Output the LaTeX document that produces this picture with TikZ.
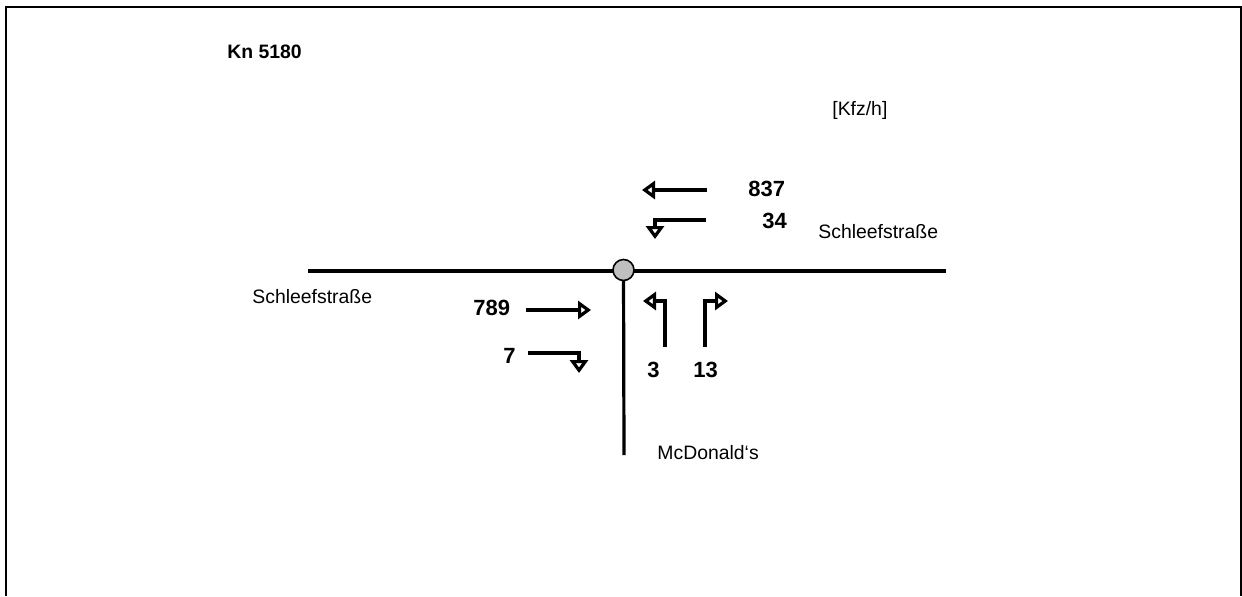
\documentclass[tikz,border=0pt]{standalone}
\usepackage{fontspec}
\setmainfont{Liberation Sans}
\usetikzlibrary{arrows.meta}
\begin{document}
\begin{tikzpicture}[x=0.5pt,y=-0.5pt,
  lbl/.style={anchor=base west,inner sep=0pt,font=\fontsize{9.7}{11}\selectfont},
  vol/.style={anchor=base west,inner sep=0pt,font=\fontsize{11}{13}\selectfont\bfseries},
  road/.style={line width=1.6pt},
  flow/.style={line width=1.6pt,-{Triangle[open,length=6.5pt,width=9pt]}},
  border/.style={line width=1pt},
  junctionnode/.style={circle,draw,line width=0.8pt,fill=black!25,minimum size=10.5pt,inner sep=0pt}]
\useasboundingbox (0,0) rectangle (1242,596);

% outer frame (open at the bottom)
\coordinate (fbl) at (6,596);
\coordinate (ftl) at (6,7);
\coordinate (ftr) at (1241,7);
\coordinate (fbr) at (1241,596);
\draw[border] (fbl) -- (ftl) -- (ftr) -- (fbr);

% titles
\node[vol,font=\fontsize{9.7}{11}\selectfont\bfseries] (title) at (227,58) {Kn 5180};
\node[lbl] (unit) at (832,115) {[Kfz/h]};

% roads
\coordinate (rw) at (308,271);
\coordinate (re) at (946,271);
\coordinate (rs) at (624,455);
\coordinate (jc) at (623.5,270);
\draw[road] (rw) -- (re);
\draw[road] (jc) -- (rs);
\node[junctionnode] (junction) at (jc) {};

% street names
\node[lbl] (streetE) at (818,238) {Schleefstraße};
\node[lbl] (streetW) at (252,303) {Schleefstraße};
\node[lbl] (streetS) at (657,459) {McDonald‘s};

% volumes
\node[vol] (v837) at (748,196) {837};
\node[vol] (v34) at (762,228) {34};
\node[vol] (v789) at (473,315) {789};
\node[vol] (v7) at (503,363) {7};
\node[vol] (v3) at (647,377) {3};
\node[vol] (v13) at (693,377) {13};

% turning movements
\coordinate (a837s) at (707,190);
\coordinate (a837e) at (642,190);
\draw[flow] (a837s) -- (a837e);

\coordinate (a34s) at (706,220);
\coordinate (a34e) at (655,239);
\draw[flow] (a34s) -| (a34e);

\coordinate (a789s) at (526,310);
\coordinate (a789e) at (591,310);
\draw[flow] (a789s) -- (a789e);

\coordinate (a7s) at (528,353);
\coordinate (a7e) at (579,373);
\draw[flow] (a7s) -| (a7e);

\coordinate (a3s) at (665,347);
\coordinate (a3e) at (643,301);
\draw[flow] (a3s) |- (a3e);

\coordinate (a13s) at (705,347);
\coordinate (a13e) at (728,301);
\draw[flow] (a13s) |- (a13e);
\end{tikzpicture}
\end{document}
